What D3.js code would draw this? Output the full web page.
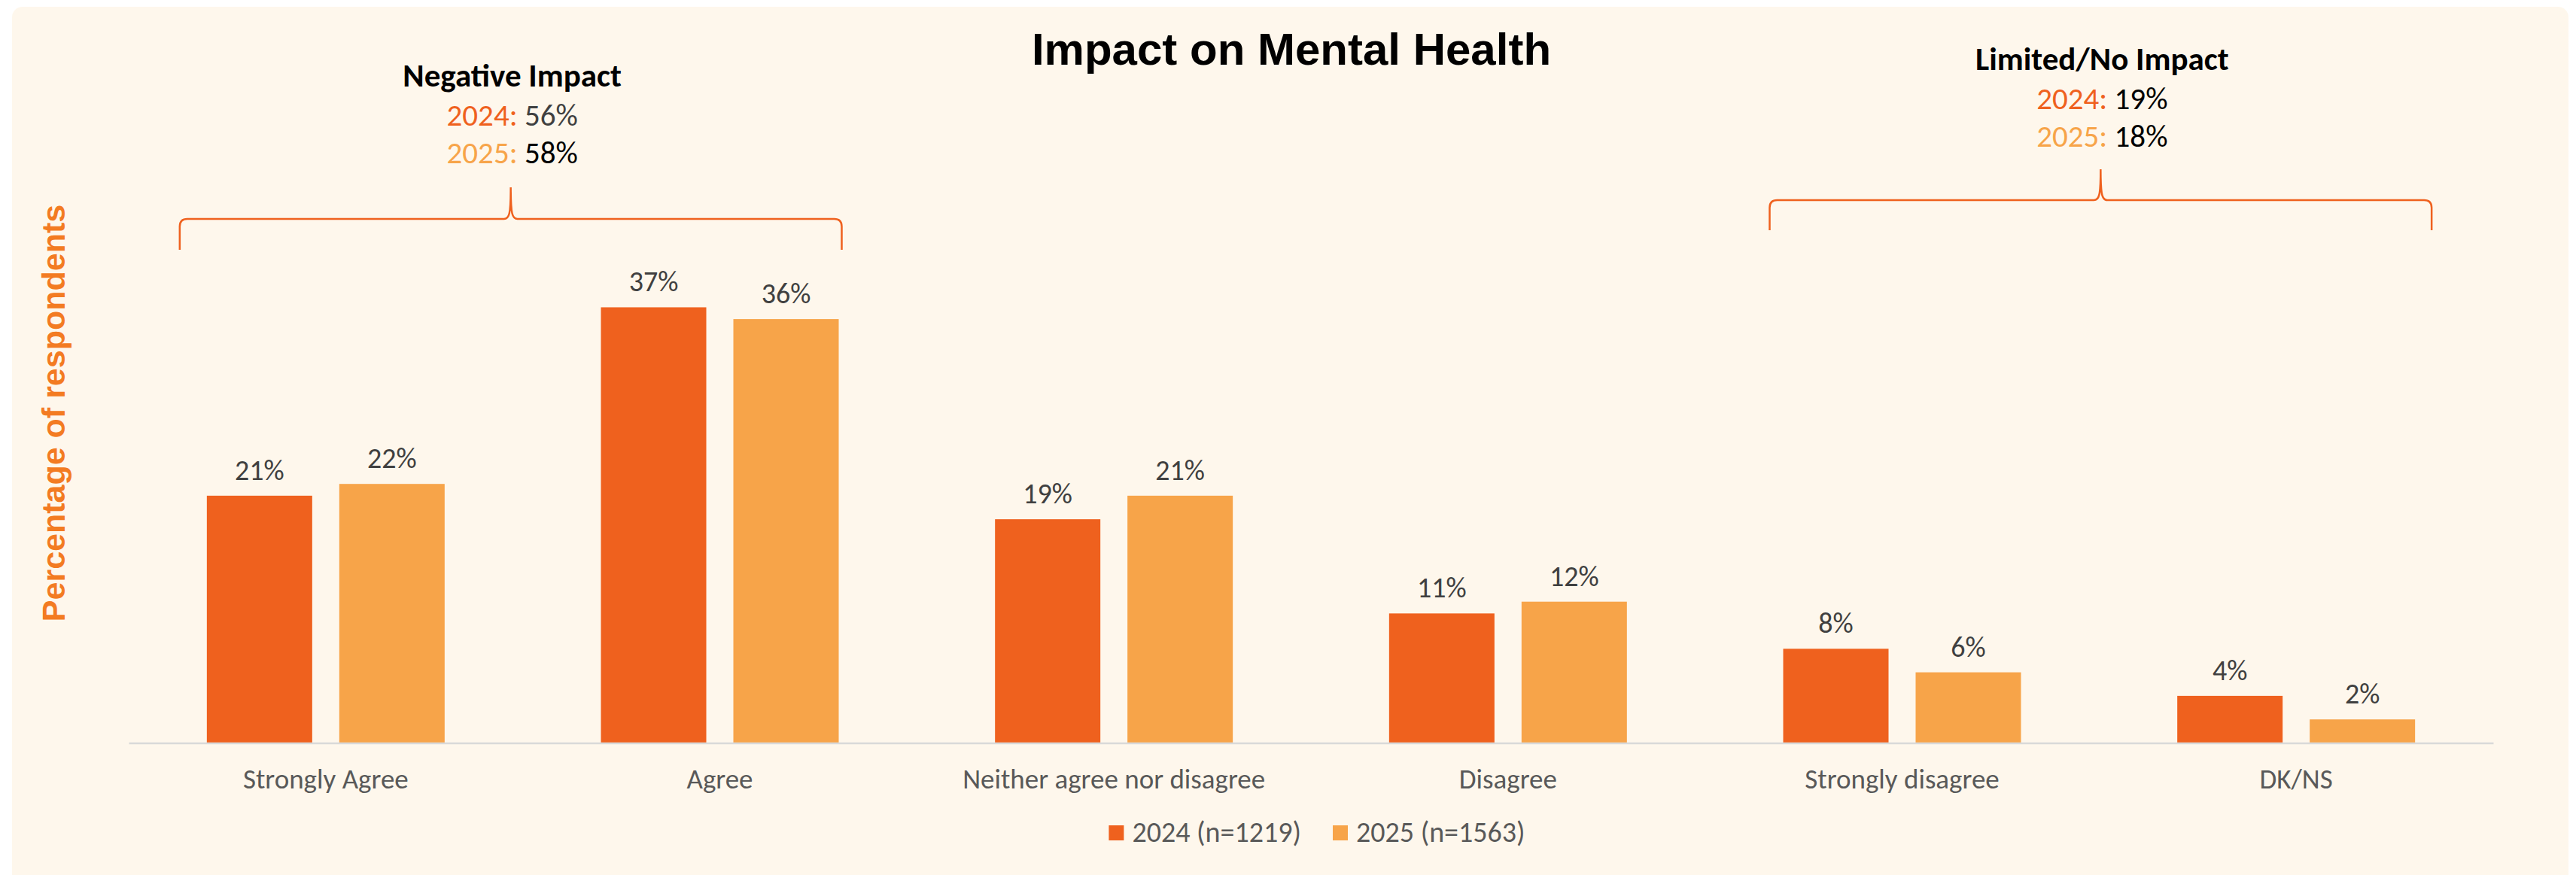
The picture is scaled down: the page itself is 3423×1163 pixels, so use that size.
<!DOCTYPE html>
<html>
<head>
<meta charset="utf-8">
<script src="https://cdn.jsdelivr.net/npm/d3@7"></script>
<style>
  html, body { margin: 0; padding: 0; background: #ffffff; }
  svg { display: block; }
</style>
</head>
<body>
<svg id="chart" width="3423" height="1163"></svg>
<script>
// Survey responses: "Impact on Mental Health"
const categories = ["Strongly Agree", "Agree", "Neither agree nor disagree", "Disagree", "Strongly disagree", "DK/NS"];
const seriesNames = ["2024", "2025"];
const seriesLegend = ["2024 (n=1219)", "2025 (n=1563)"];
const values2024 = [21, 37, 19, 11, 8, 4];
const values2025 = [22, 36, 21, 12, 6, 2];
const seriesColors = ["#EF611E", "#F7A449"];

// Grouped summaries shown above the bars
const groupNames = ["Negative Impact", "Limited/No Impact"];
const groupSpans = [["Strongly Agree", "Agree"], ["Strongly disagree", "DK/NS"]];
const groupTotals2024 = [56, 19];
const groupTotals2025 = [58, 18];

const W = 3423, H = 1163;
const bodyFont = "Carlito, Calibri, Lato, 'Open Sans', sans-serif";
const headFont = "'Liberation Sans', Arial, Helvetica, sans-serif";

const svg = d3.select("#chart");

// Panel background
svg.append("rect")
  .attr("x", 16).attr("y", 9)
  .attr("width", W - 26).attr("height", H + 30)
  .attr("rx", 14).attr("ry", 14)
  .attr("fill", "#FEF7EC");

const rows = categories.map((c, i) => ({ cat: c, vals: [values2024[i], values2025[i]] }));

const left = 171, right = 3313, baseY = 987.5;

const x0 = d3.scaleBand()
  .domain(categories)
  .range([left, right])
  .paddingInner(0.3966)
  .paddingOuter(0.1983);

const x1 = d3.scaleBand()
  .domain(seriesNames)
  .range([0, x0.bandwidth()])
  .paddingInner(0.2045);

const y = d3.scaleLinear()
  .domain([0, 40])
  .range([baseY, baseY - 626]);

// Bars
const groups = svg.append("g").selectAll("g")
  .data(rows)
  .join("g")
  .attr("transform", d => `translate(${x0(d.cat)},0)`);

groups.selectAll("rect")
  .data(d => d.vals.map((v, i) => ({ key: seriesNames[i], v, i })))
  .join("rect")
  .attr("x", d => x1(d.key))
  .attr("y", d => y(d.v))
  .attr("width", x1.bandwidth())
  .attr("height", d => y(0) - y(d.v))
  .attr("fill", d => seriesColors[d.i]);

// Value labels
groups.selectAll("text.val")
  .data(d => d.vals.map((v, i) => ({ key: seriesNames[i], v, i })))
  .join("text")
  .attr("class", "val")
  .attr("x", d => x1(d.key) + x1.bandwidth() / 2)
  .attr("y", d => y(d.v) - 21)
  .attr("text-anchor", "middle")
  .attr("font-family", bodyFont)
  .attr("font-size", 38)
  .attr("fill", "#404040")
  .text(d => d.v + "%");

// Category axis
const axis = svg.append("g")
  .attr("transform", `translate(0,${baseY})`)
  .call(d3.axisBottom(x0).tickSize(0).tickSizeOuter(0).tickPadding(34));
axis.select(".domain").attr("stroke", "#D9D9D9").attr("stroke-width", 2.5);
axis.selectAll("text")
  .attr("font-family", bodyFont)
  .attr("font-size", 37)
  .attr("fill", "#595959");

// Y axis title
svg.append("text")
  .attr("transform", "translate(86,549) rotate(-90)")
  .attr("text-anchor", "middle")
  .attr("font-family", headFont)
  .attr("font-weight", "bold")
  .attr("font-size", 43)
  .attr("fill", "#F37B22")
  .text("Percentage of respondents");

// Chart title
svg.append("text")
  .attr("x", 1716).attr("y", 86)
  .attr("text-anchor", "middle")
  .attr("font-family", headFont)
  .attr("font-weight", "bold")
  .attr("font-size", 60)
  .attr("fill", "#000000")
  .text("Impact on Mental Health");

// Curly braces with group summaries
const braceSpec = [
  { pad: [36, 4], h: 291, e: 332, tip: 249, textTop: 115 },
  { pad: [18, 22], h: 266, e: 306, tip: 225, textTop: 93 }
];
const bw = x0.bandwidth();

function bracePath(xa, xb, h, e, p) {
  const t = (xa + xb) / 2, r = 10, s = 9;
  return `M${xa},${e} L${xa},${h + r} Q${xa},${h} ${xa + r},${h}` +
    ` L${t - s},${h} C${t - 2},${h} ${t},${h - 6} ${t},${p}` +
    ` C${t},${h - 6} ${t + 2},${h} ${t + s},${h}` +
    ` L${xb - r},${h} Q${xb},${h} ${xb},${h + r} L${xb},${e}`;
}

groupNames.forEach((name, gi) => {
  const spec = braceSpec[gi];
  const xa = x0(groupSpans[gi][0]) - spec.pad[0];
  const xb = x0(groupSpans[gi][1]) + bw + spec.pad[1];
  const mid = (xa + xb) / 2;

  svg.append("path")
    .attr("d", bracePath(xa, xb, spec.h, spec.e, spec.tip))
    .attr("fill", "none")
    .attr("stroke", "#EF611E")
    .attr("stroke-width", 2.5);

  const g = svg.append("g")
    .attr("font-family", bodyFont)
    .attr("text-anchor", "middle");

  g.append("text")
    .attr("x", mid + 2).attr("y", spec.textTop)
    .attr("font-size", 43)
    .attr("font-weight", "bold")
    .attr("fill", "#000000")
    .text(name);

  const lines = [
    { label: seriesNames[0], v: groupTotals2024[gi], c: seriesColors[0], vc: gi === 0 ? "#404040" : "#000000" },
    { label: seriesNames[1], v: groupTotals2025[gi], c: seriesColors[1], vc: "#000000" }
  ];
  lines.forEach((ln, li) => {
    const t = g.append("text")
      .attr("x", mid + 2)
      .attr("y", spec.textTop + 52 + li * 50)
      .attr("font-size", 41);
    t.append("tspan").attr("fill", ln.c).text(ln.label + ":");
    t.append("tspan").attr("fill", ln.vc).text(" " + ln.v + "%");
  });
});

// Legend
const legend = svg.append("g");
const items = legend.selectAll("g")
  .data(seriesLegend)
  .join("g");
items.append("rect")
  .attr("width", 20).attr("height", 20)
  .attr("y", -22)
  .attr("fill", (d, i) => seriesColors[i]);
items.append("text")
  .attr("x", 31)
  .attr("y", 0)
  .attr("font-family", bodyFont)
  .attr("font-size", 38)
  .attr("fill", "#595959")
  .text(d => d);

let cursor = 0;
items.each(function () {
  const node = d3.select(this);
  node.attr("transform", `translate(${cursor},0)`);
  const tw = node.select("text").node().getComputedTextLength();
  cursor += 31 + tw + 42;
});
const legendWidth = cursor - 42;
legend.attr("transform", `translate(${1750 - legendWidth / 2},1119)`);
</script>
</body>
</html>
